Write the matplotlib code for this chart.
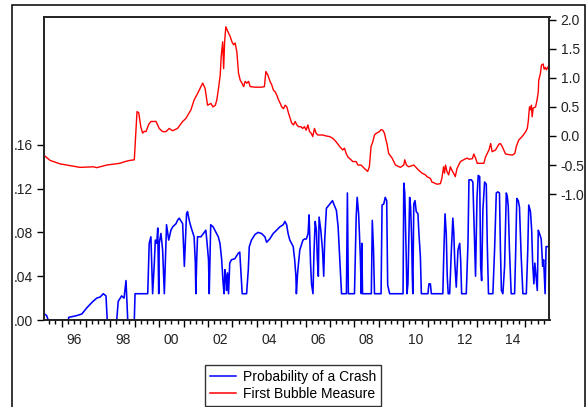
import matplotlib
matplotlib.use("Agg")
import matplotlib.pyplot as plt
from matplotlib.lines import Line2D
from matplotlib.patches import Rectangle
from matplotlib.ticker import FixedLocator, FuncFormatter

# Probability of a crash (left scale), dates in decimal years
crash_years = [
    1995.30, 1995.39, 1995.45, 1996.28, 1996.29, 1996.62, 1996.83, 1997.03, 1997.24, 1997.44,
    1997.58, 1997.71, 1997.82, 1997.87, 1998.26, 1998.32, 1998.46, 1998.56, 1998.64, 1998.71,
    1998.98, 1999.01, 1999.53, 1999.59, 1999.66, 1999.73, 1999.80, 1999.84, 1999.90, 1999.94,
    1999.98, 2000.00, 2000.07, 2000.14, 2000.21, 2000.30, 2000.39, 2000.48, 2000.55, 2000.69,
    2000.75, 2000.82, 2000.96, 2001.03, 2001.07, 2001.12, 2001.16, 2001.23, 2001.30, 2001.43,
    2001.48, 2001.50, 2001.54, 2001.57, 2001.71, 2001.91, 2001.95, 2002.02, 2002.05, 2002.11,
    2002.21, 2002.28, 2002.35, 2002.42, 2002.49, 2002.56, 2002.62, 2002.66, 2002.69, 2002.73,
    2002.76, 2002.80, 2002.84, 2002.89, 2002.96, 2003.10, 2003.24, 2003.30, 2003.35, 2003.40,
    2003.58, 2003.65, 2003.69, 2003.78, 2003.92, 2004.05, 2004.19, 2004.33, 2004.40, 2004.53,
    2004.67, 2004.81, 2004.94, 2005.08, 2005.15, 2005.22, 2005.28, 2005.35, 2005.49, 2005.55,
    2005.60, 2005.62, 2005.67, 2005.76, 2005.89, 2005.96, 2006.03, 2006.10, 2006.14, 2006.20,
    2006.24, 2006.30, 2006.34, 2006.39, 2006.44, 2006.48, 2006.52, 2006.55, 2006.62, 2006.69,
    2006.74, 2006.78, 2006.85, 2006.99, 2007.10, 2007.15, 2007.26, 2007.33, 2007.40, 2007.47,
    2007.67, 2007.71, 2007.75, 2008.00, 2008.07, 2008.11, 2008.17, 2008.24, 2008.28, 2008.30,
    2008.33, 2008.69, 2008.73, 2008.78, 2008.82, 2009.09, 2009.13, 2009.20, 2009.26, 2009.32,
    2009.36, 2009.44, 2009.99, 2010.02, 2010.06, 2010.10, 2010.12, 2010.15, 2010.19, 2010.26,
    2010.30, 2010.34, 2010.37, 2010.39, 2010.43, 2010.48, 2010.53, 2010.60, 2010.64, 2010.70,
    2010.74, 2011.01, 2011.05, 2011.11, 2011.15, 2011.62, 2011.66, 2011.71, 2011.76, 2011.80,
    2011.84, 2011.90, 2011.97, 2012.03, 2012.07, 2012.11, 2012.17, 2012.24, 2012.31, 2012.35,
    2012.39, 2012.58, 2012.65, 2012.69, 2012.79, 2012.85, 2012.92, 2012.96, 2013.02, 2013.07,
    2013.13, 2013.17, 2013.21, 2013.26, 2013.33, 2013.40, 2013.44, 2013.49, 2013.67, 2013.74,
    2013.81, 2013.87, 2013.94, 2013.98, 2014.02, 2014.08, 2014.15, 2014.22, 2014.26, 2014.30,
    2014.35, 2014.42, 2014.56, 2014.60, 2014.65, 2014.71, 2014.76, 2014.83, 2014.90, 2015.04,
    2015.10, 2015.14, 2015.21, 2015.26, 2015.30, 2015.35, 2015.39, 2015.44, 2015.49, 2015.53,
    2015.58, 2015.65, 2015.71, 2015.75, 2015.81, 2015.85, 2015.92,
]
crash_prob = [
    0.0055, 0.004, 0.0, 0.0, 0.0024, 0.004, 0.0055, 0.011, 0.016, 0.020,
    0.021, 0.024, 0.022, 0.0, 0.0, 0.017, 0.022, 0.020, 0.036, 0.0,
    0.0, 0.024, 0.024, 0.070, 0.076, 0.024, 0.052, 0.073, 0.070, 0.084,
    0.024, 0.070, 0.079, 0.064, 0.024, 0.087, 0.073, 0.082, 0.085, 0.088,
    0.091, 0.093, 0.088, 0.049, 0.070, 0.097, 0.099, 0.091, 0.085, 0.076,
    0.052, 0.024, 0.058, 0.076, 0.076, 0.082, 0.073, 0.055, 0.024, 0.087,
    0.085, 0.082, 0.079, 0.076, 0.070, 0.055, 0.033, 0.024, 0.046, 0.040,
    0.027, 0.043, 0.024, 0.052, 0.055, 0.056, 0.061, 0.062, 0.043, 0.024,
    0.024, 0.046, 0.067, 0.073, 0.078, 0.080, 0.079, 0.076, 0.071, 0.074,
    0.079, 0.082, 0.085, 0.087, 0.090, 0.087, 0.079, 0.073, 0.067, 0.055,
    0.040, 0.024, 0.043, 0.064, 0.073, 0.074, 0.074, 0.079, 0.096, 0.052,
    0.033, 0.024, 0.061, 0.090, 0.082, 0.055, 0.040, 0.094, 0.082, 0.064,
    0.040, 0.073, 0.102, 0.106, 0.109, 0.106, 0.100, 0.085, 0.055, 0.024,
    0.024, 0.116, 0.024, 0.024, 0.094, 0.112, 0.097, 0.058, 0.024, 0.070,
    0.024, 0.024, 0.091, 0.064, 0.024, 0.024, 0.105, 0.106, 0.112, 0.109,
    0.032, 0.024, 0.024, 0.125, 0.116, 0.079, 0.058, 0.024, 0.033, 0.112,
    0.103, 0.076, 0.040, 0.024, 0.106, 0.109, 0.099, 0.097, 0.079, 0.058,
    0.024, 0.024, 0.033, 0.033, 0.024, 0.024, 0.061, 0.097, 0.079, 0.040,
    0.024, 0.024, 0.064, 0.093, 0.079, 0.052, 0.030, 0.064, 0.070, 0.055,
    0.024, 0.024, 0.070, 0.128, 0.128, 0.126, 0.070, 0.040, 0.112, 0.132,
    0.131, 0.049, 0.036, 0.100, 0.126, 0.124, 0.070, 0.024, 0.024, 0.064,
    0.116, 0.117, 0.116, 0.064, 0.027, 0.024, 0.049, 0.116, 0.113, 0.104,
    0.064, 0.024, 0.024, 0.058, 0.111, 0.109, 0.103, 0.058, 0.024, 0.024,
    0.064, 0.105, 0.099, 0.082, 0.052, 0.033, 0.052, 0.040, 0.027, 0.082,
    0.079, 0.074, 0.049, 0.055, 0.024, 0.067, 0.067,
]

# First bubble measure (right scale)
bubble_years = [
    1995.33, 1995.53, 1995.94, 1996.48, 1996.76, 1997.30, 1997.44, 1997.85, 1998.39, 1998.60,
    1998.80, 1998.98, 1999.02, 1999.09, 1999.16, 1999.25, 1999.32, 1999.39, 1999.46, 1999.57,
    1999.66, 1999.87, 2000.00, 2000.14, 2000.28, 2000.41, 2000.55, 2000.75, 2000.96, 2001.09,
    2001.30, 2001.43, 2001.57, 2001.78, 2001.88, 2001.98, 2002.12, 2002.20, 2002.30, 2002.36,
    2002.43, 2002.50, 2002.54, 2002.60, 2002.64, 2002.68, 2002.73, 2002.81, 2002.91, 2002.98,
    2003.05, 2003.11, 2003.18, 2003.25, 2003.32, 2003.39, 2003.46, 2003.52, 2003.59, 2003.66,
    2003.73, 2003.93, 2004.20, 2004.31, 2004.37, 2004.45, 2004.54, 2004.61, 2004.68, 2004.75,
    2004.82, 2004.89, 2004.96, 2005.02, 2005.09, 2005.16, 2005.23, 2005.30, 2005.37, 2005.43,
    2005.50, 2005.57, 2005.64, 2005.71, 2005.81, 2005.88, 2005.95, 2006.02, 2006.09, 2006.16,
    2006.23, 2006.29, 2006.36, 2006.43, 2006.50, 2006.70, 2006.84, 2006.98, 2007.11, 2007.25,
    2007.39, 2007.52, 2007.59, 2007.66, 2007.73, 2007.86, 2007.93, 2008.07, 2008.14, 2008.27,
    2008.41, 2008.54, 2008.61, 2008.68, 2008.75, 2008.82, 2008.89, 2009.02, 2009.09, 2009.16,
    2009.23, 2009.29, 2009.33, 2009.40, 2009.54, 2009.68, 2009.88, 2010.02, 2010.06, 2010.13,
    2010.22, 2010.43, 2010.56, 2010.63, 2010.77, 2010.91, 2010.97, 2011.11, 2011.17, 2011.38,
    2011.52, 2011.58, 2011.65, 2011.69, 2011.73, 2011.79, 2011.86, 2011.93, 2011.99, 2012.06,
    2012.13, 2012.20, 2012.27, 2012.34, 2012.47, 2012.61, 2012.69, 2012.83, 2012.89, 2012.96,
    2013.03, 2013.30, 2013.37, 2013.51, 2013.58, 2013.64, 2013.78, 2013.92, 2013.98, 2014.05,
    2014.19, 2014.46, 2014.57, 2014.63, 2014.73, 2014.87, 2015.01, 2015.08, 2015.12, 2015.17,
    2015.21, 2015.25, 2015.28, 2015.32, 2015.42, 2015.48, 2015.53, 2015.55, 2015.62, 2015.66,
    2015.73, 2015.77, 2015.82, 2015.86, 2015.93,
]
bubble_measure = [
    -0.35, -0.42, -0.48, -0.52, -0.54, -0.53, -0.545, -0.50, -0.47, -0.44,
    -0.42, -0.41, -0.10, 0.42, 0.40, 0.15, 0.05, 0.08, 0.075, 0.20,
    0.25, 0.25, 0.13, 0.075, 0.075, 0.13, 0.09, 0.13, 0.25, 0.30,
    0.45, 0.62, 0.73, 0.91, 0.82, 0.53, 0.56, 0.50, 0.53, 0.62,
    0.82, 1.05, 1.37, 1.62, 1.16, 1.62, 1.88, 1.80, 1.71, 1.62,
    1.57, 1.60, 1.45, 1.08, 0.96, 0.91, 0.85, 0.94, 0.91, 0.94,
    0.85, 0.84, 0.84, 0.85, 1.11, 1.05, 0.94, 0.88, 0.79, 0.76,
    0.70, 0.62, 0.56, 0.50, 0.47, 0.53, 0.50, 0.39, 0.30, 0.22,
    0.19, 0.25, 0.19, 0.16, 0.16, 0.13, 0.16, 0.10, 0.19, 0.075,
    0.046, -0.01, 0.13, 0.046, 0.017, 0.017, 0.0, -0.01, -0.04, -0.10,
    -0.18, -0.24, -0.21, -0.30, -0.36, -0.41, -0.44, -0.44, -0.50, -0.50,
    -0.56, -0.61, -0.53, -0.18, -0.10, 0.017, 0.046, 0.075, 0.11, 0.10,
    0.046, -0.07, -0.13, -0.30, -0.38, -0.50, -0.54, -0.50, -0.41, -0.50,
    -0.53, -0.50, -0.56, -0.59, -0.64, -0.67, -0.70, -0.73, -0.79, -0.83,
    -0.82, -0.73, -0.53, -0.64, -0.50, -0.61, -0.67, -0.53, -0.59, -0.64,
    -0.70, -0.56, -0.50, -0.44, -0.41, -0.38, -0.40, -0.39, -0.31, -0.38,
    -0.47, -0.47, -0.36, -0.24, -0.13, -0.27, -0.24, -0.14, -0.13, -0.18,
    -0.31, -0.33, -0.30, -0.18, -0.07, -0.01, 0.07, 0.13, 0.25, 0.50,
    0.45, 0.53, 0.33, 0.48, 0.50, 0.62, 0.76, 0.96, 1.08, 1.22,
    1.24, 1.15, 1.18, 1.14, 1.19,
]

left_ticks = [0.00, 0.04, 0.08, 0.12, 0.16]
left_labels = [".00", ".04", ".08", ".12", ".16"]
right_ticks = [-1.0, -0.5, 0.0, 0.5, 1.0, 1.5, 2.0]
right_labels = ["-1.0", "-0.5", "0.0", "0.5", "1.0", "1.5", "2.0"]
label_years = [1996, 1998, 2000, 2002, 2004, 2006, 2008, 2010, 2012, 2014]

plt.rcParams["font.family"] = ["Liberation Sans", "DejaVu Sans"]
plt.rcParams["font.size"] = 10

W, H = 587, 407
fig = plt.figure(figsize=(W / 100, H / 100), dpi=100)
fig.patch.set_facecolor("white")

# outer frame around the whole graph
fig.add_artist(Rectangle((12 / W, -0.05), (585 - 12) / W, 1.05 - 5 / H,
                         transform=fig.transFigure, fill=False,
                         edgecolor="black", lw=1.1))

ax = fig.add_axes([44 / W, 1 - 320 / H, (549.5 - 44) / W, (320 - 17) / H])
ax2 = ax.twinx()

ax.plot(crash_years, crash_prob, color="#0000FF", lw=1.15)
ax2.plot(bubble_years, bubble_measure, color="#FF0000", lw=1.0)

ax.set_xlim(1995.28, 2015.99)
ax.set_ylim(0, 0.2767)
ax2.set_ylim(-3.167, 2.048)

ax.set_yticks(left_ticks)
ax.set_yticklabels(left_labels)
ax2.set_yticks(right_ticks)
ax2.set_yticklabels(right_labels)

# year boundaries as major ticks, quarters as minor ticks; labels sit mid-year
ax.xaxis.set_major_locator(FixedLocator(range(1996, 2016)))
ax.xaxis.set_major_formatter(FuncFormatter(lambda v, p: ""))
quarters = [y + q / 4 for y in range(1995, 2016) for q in range(4)]
ax.xaxis.set_minor_locator(FixedLocator(quarters))
mid_years = {y + 0.5: "%02d" % (y % 100) for y in label_years}
ax.xaxis.set_minor_formatter(FuncFormatter(lambda v, p: mid_years.get(round(v, 2), "")))

ax.tick_params(axis="x", which="major", direction="out", length=5, width=1.0)
ax.tick_params(axis="x", which="minor", direction="out", length=3, width=1.0,
               pad=6, labelsize=10, labelcolor="#222222")
ax.tick_params(axis="y", direction="out", length=5, width=1.0, pad=3,
               labelcolor="#222222")
ax2.tick_params(axis="y", direction="out", length=5, width=1.0, pad=3,
                labelcolor="#222222")

for a in (ax, ax2):
    for s in a.spines.values():
        s.set_linewidth(1.2)
        s.set_color("#222222")

handles = [Line2D([], [], color="#0000FF", lw=1.1),
           Line2D([], [], color="#FF0000", lw=1.1)]
leg = fig.legend(handles, ["Probability of a Crash", "First Bubble Measure"],
                 loc="upper left", bbox_to_anchor=(205 / W, 1 - 365 / H),
                 frameon=True, fancybox=False, edgecolor="black",
                 handlelength=1.9, handletextpad=0.5, borderpad=0.35,
                 labelspacing=0.25, borderaxespad=0, fontsize=10)
leg.get_frame().set_linewidth(1.0)

fig.savefig("out.png", dpi=100)
